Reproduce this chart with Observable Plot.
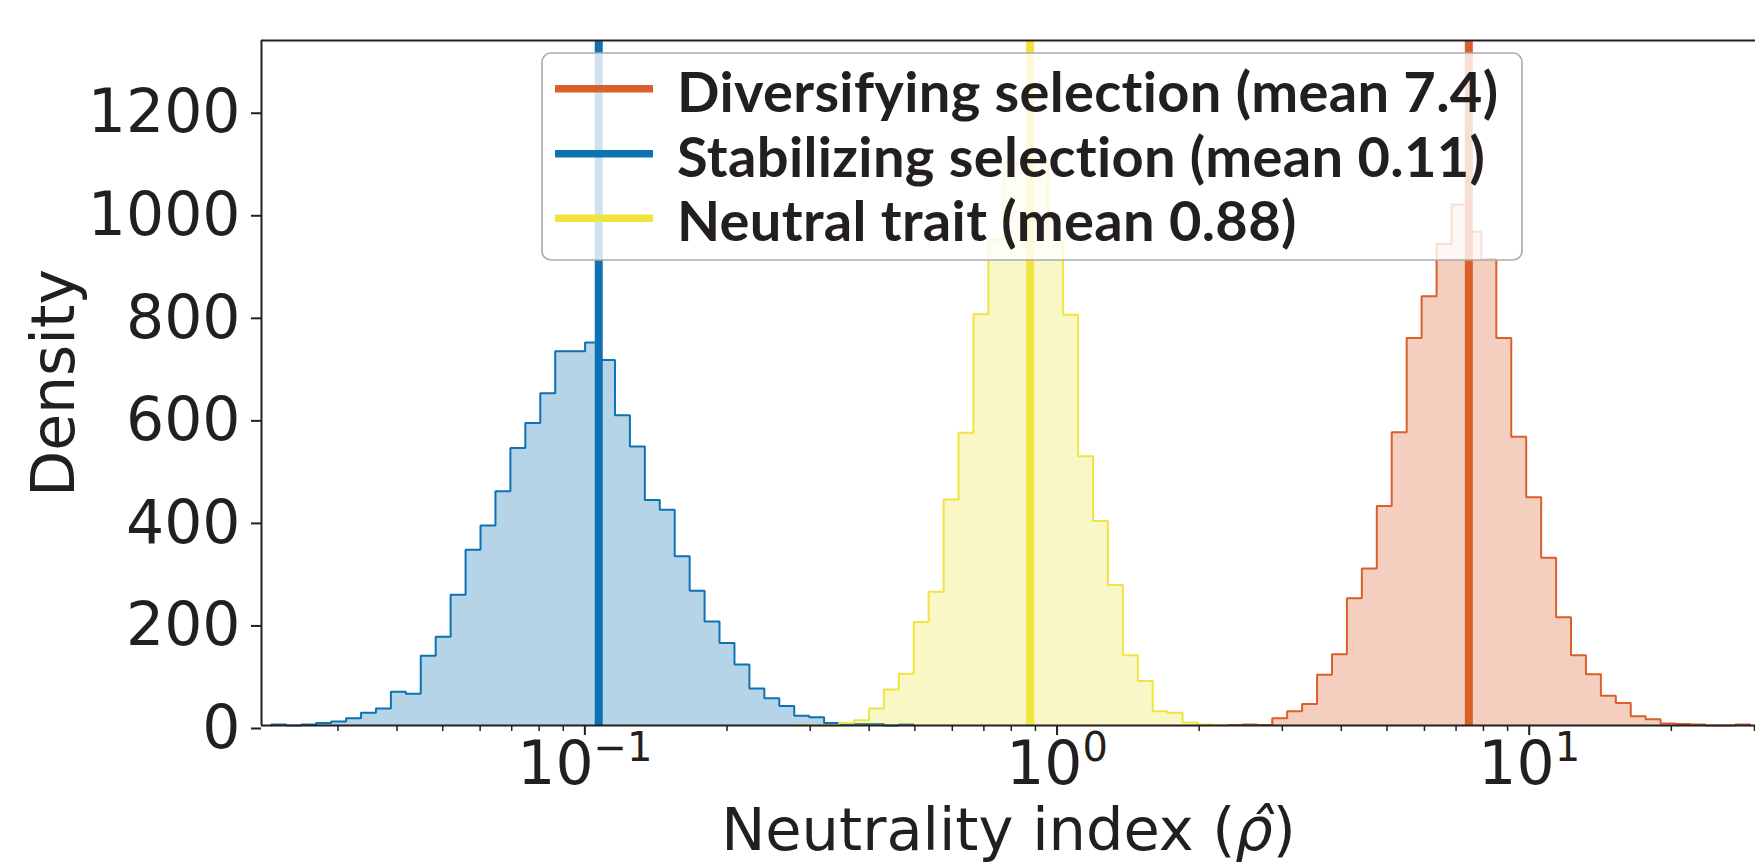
<!DOCTYPE html>
<html><head><meta charset="utf-8">
<script src="https://cdn.jsdelivr.net/npm/d3@7"></script>
<script src="https://cdn.jsdelivr.net/npm/@observablehq/plot@0.6"></script>
<style>
html,body{margin:0;padding:0;background:#fff;}
#wrap{position:relative;width:1755px;height:866px;overflow:hidden;background:#fff;}
</style></head><body><div id="wrap"></div>
<script>
// ---------- data ----------
const seriesNames = ["Diversifying selection (mean 7.4)", "Stabilizing selection (mean 0.11)", "Neutral trait (mean 0.88)"];
const seriesColors = ["#D9602A", "#0C72B4", "#F0E442"];
const seriesMeans = [7.45, 0.107, 0.877];

// common logarithmic bins (99 bins between these edges)
const binFirstEdge = 0.02168;
const binLastEdge = 29.39;
const binCount = 99;

const diversifyingStart = 64;
const diversifyingDensity = [1, 2, 1, 14, 28, 42, 99, 139, 248, 306, 428, 572, 756, 837, 939, 1016, 963, 910, 756, 563, 445, 327, 211, 137, 100, 58, 44, 18, 12, 4, 3, 2, 0, 0, 2];

const stabilizingStart = 0;
const stabilizingDensity = [2, 0, 2, 5, 8, 14, 25, 33, 66, 62, 136, 173, 255, 343, 390, 457, 541, 590, 648, 730, 730, 747, 713, 605, 544, 440, 421, 330, 263, 203, 161, 119, 72, 53, 38, 19, 16, 5, 3, 3, 3, 0, 2];

const neutralStart = 35;
const neutralDensity = [1, 0, 0, 5, 10, 33, 70, 101, 202, 261, 441, 571, 802, 947, 1097, 1097, 1097, 947, 801, 525, 399, 274, 137, 87, 28, 25, 6, 2, 1];

const xDomain = [0.02066, 30.15];
const yDomain = [0, 1336];
const yTicks = [0, 200, 400, 600, 800, 1000, 1200];
const xMajorTicks = [0.1, 1, 10];
const xMajorExponents = ["\u22121", "0", "1"];
const xMinorTicks = [0.03, 0.04, 0.05, 0.06, 0.07, 0.08, 0.09, 0.2, 0.3, 0.4, 0.5, 0.6, 0.7, 0.8, 0.9, 2, 3, 4, 5, 6, 7, 8, 9, 20, 30];
const xLabel = "Neutrality index (\u03C1\u0302)";
const yLabel = "Density";

// ---------- build ----------
const edge = k => binFirstEdge * Math.pow(binLastEdge / binFirstEdge, k / binCount);
function steps(start, vals) {
  const pts = [];
  vals.forEach((v, i) => {
    pts.push({x: edge(start + i), y0: 0, y: v});
    pts.push({x: edge(start + i + 1), y0: 0, y: v});
  });
  return pts;
}
function outline(start, vals) {
  return [{x: edge(start), y: 0}, ...steps(start, vals), {x: edge(start + vals.length), y: 0}];
}
const series = [
  {start: diversifyingStart, vals: diversifyingDensity},
  {start: stabilizingStart, vals: stabilizingDensity},
  {start: neutralStart, vals: neutralDensity}
];

const ink = "#231f20";
const marks = [];
series.forEach((s, i) => {
  marks.push(Plot.area(steps(s.start, s.vals), {x1: "x", y1: "y0", y2: "y", fill: seriesColors[i], fillOpacity: 0.3, curve: "linear"}));
  marks.push(Plot.line(outline(s.start, s.vals), {x: "x", y: "y", stroke: seriesColors[i], strokeWidth: 2, curve: "linear", strokeLinejoin: "miter"}));
  marks.push(Plot.ruleX([seriesMeans[i]], {stroke: seriesColors[i], strokeWidth: 8}));
});
const tickTag = d => "xt:" + d;
marks.push(
  Plot.axisX(xMinorTicks, {tickSize: 6, tickFormat: () => "", strokeWidth: 1.5, stroke: ink, label: null}),
  Plot.axisX(xMajorTicks, {tickSize: 10, tickPadding: 6, tickFormat: tickTag, strokeWidth: 2, stroke: ink, fill: ink, fontSize: 60, label: null}),
  Plot.axisY(yTicks, {tickSize: 10, tickPadding: 11, tickFormat: d => String(d), strokeWidth: 2, stroke: ink, fill: ink, fontSize: 60, dy: 3, label: null}),
  Plot.ruleY([yDomain[0]], {stroke: ink, strokeWidth: 2}),
  Plot.ruleY([yDomain[1]], {stroke: ink, strokeWidth: 2}),
  Plot.ruleX([xDomain[0]], {stroke: ink, strokeWidth: 2}),
  Plot.text([xLabel], {frameAnchor: "bottom", textAnchor: "middle", dy: 124, fontSize: 59, fill: ink}),
  Plot.text([yLabel], {frameAnchor: "left", textAnchor: "middle", rotate: -90, dx: -207, fontSize: 60, fill: ink})
);

const chart = Plot.plot({
  width: 1755, height: 866,
  marginLeft: 261, marginRight: 0, marginTop: 40, marginBottom: 141,
  style: {fontFamily: "DejaVu Sans", fontSize: "60px", color: ink, background: "white", overflow: "visible"},
  x: {type: "log", domain: xDomain},
  y: {domain: yDomain},
  marks
});
document.getElementById("wrap").appendChild(chart);

// power-of-ten tick labels with real superscripts, italic hatted rho in x label
d3.select(chart).selectAll("text").each(function() {
  const t = this.textContent;
  if (t === xLabel) {
    this.innerHTML = 'Neutrality index (<tspan font-style="italic">\u03C1\u0302</tspan>)';
  } else if (t.startsWith("xt:")) {
    const v = +t.slice(3);
    const e = xMajorExponents[xMajorTicks.indexOf(v)];
    this.innerHTML = '10<tspan dy="-23" font-size="40">' + e + '</tspan>';
  }
});

// ---------- legend (overlay, semi-transparent frame like matplotlib) ----------
const lg = d3.select("#wrap").append("svg")
  .attr("width", 1755).attr("height", 866)
  .style("position", "absolute").style("left", "0px").style("top", "0px");
lg.append("rect").attr("x", 542).attr("y", 53).attr("width", 980).attr("height", 207).attr("rx", 9)
  .attr("fill", "rgba(255,255,255,0.8)").attr("stroke", "#aaaaaa").attr("stroke-width", 1.6);
const baselines = [111.7, 176.7, 241.3];
const texts = [];
seriesNames.forEach((name, i) => {
  lg.append("line").attr("x1", 555).attr("x2", 653).attr("y1", baselines[i] - 23).attr("y2", baselines[i] - 23)
    .attr("stroke", seriesColors[i]).attr("stroke-width", 7.5);
  texts.push(lg.append("text").attr("x", 677).attr("y", baselines[i])
    .attr("font-family", "Lato, 'Open Sans', sans-serif").attr("font-weight", 700).attr("font-size", 55)
    .attr("fill", ink).text(name));
});
// fit first entry to the reference width
const w0 = texts[0].node().getComputedTextLength();
let fs = 55 * 822 / w0;
fs = Math.max(50, Math.min(56, fs));
texts.forEach(t => t.attr("font-size", fs));
const w1 = texts[0].node().getComputedTextLength();
const ls = (822 - w1) / (seriesNames[0].length - 1);
texts.forEach(t => t.attr("letter-spacing", ls));
</script></body></html>
